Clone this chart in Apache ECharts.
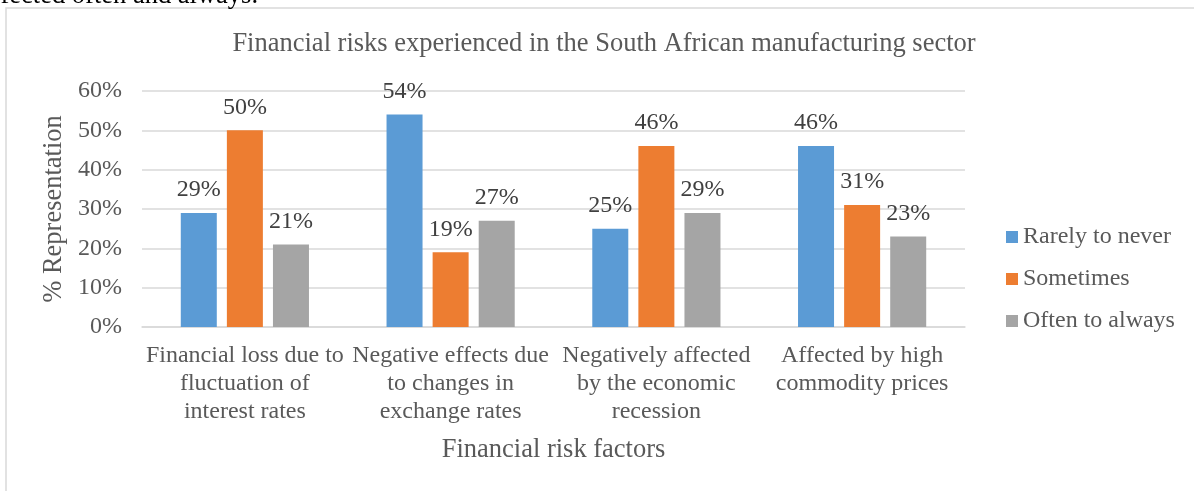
<!DOCTYPE html>
<html>
<head>
<meta charset="utf-8">
<script src="https://cdn.jsdelivr.net/npm/echarts@6/dist/echarts.min.js"></script>
<style>
  html, body { margin: 0; padding: 0; background: #ffffff; }
  #chart { width: 1194px; height: 491px; }
</style>
</head>
<body>
<div id="chart"></div>
<script>
// Risk factor categories (tick labels, with line breaks as shown under the axis)
const categories = [
  'Financial loss due to\nfluctuation of\ninterest rates',
  'Negative effects due\nto changes in\nexchange rates',
  'Negatively affected\nby the economic\nrecession',
  'Affected by high\ncommodity prices'
];

// Share of respondents per frequency, in percent
const rarelyToNever = [29, 54, 25, 46];
const sometimes = [50, 19, 46, 31];
const oftenToAlways = [21, 27, 29, 23];

const seriesNames = ['Rarely to never', 'Sometimes', 'Often to always'];
const seriesColors = ['#5B9BD5', '#ED7D31', '#A5A5A5'];

const serif = "'Liberation Serif', 'Times New Roman', serif";
const axisGrey = '#595959';
const gridGrey = '#D9D9D9';

const chart = echarts.init(document.getElementById('chart'), null, { renderer: 'canvas' });

function barSeries(name, values, color) {
  return {
    name: name,
    type: 'bar',
    data: values,
    barWidth: '17.5%',
    barGap: '28%',
    itemStyle: { color: color },
    label: {
      show: true,
      position: 'top',
      distance: 11,
      formatter: '{c}%',
      color: '#404040',
      fontFamily: serif,
      fontSize: 24,
      lineHeight: 24
    }
  };
}

chart.setOption({
  animation: false,
  backgroundColor: '#ffffff',
  textStyle: { fontFamily: serif },
  title: {
    text: 'Financial risks experienced in the South African manufacturing sector',
    left: 604,
    textAlign: 'center',
    top: 31,
    padding: 0,
    textStyle: {
      fontFamily: serif,
      fontSize: 26.5,
      fontWeight: 'normal',
      color: axisGrey,
      lineHeight: 27
    }
  },
  legend: {
    orient: 'vertical',
    left: 1006,
    top: 225,
    padding: 0,
    icon: 'rect',
    itemWidth: 12,
    itemHeight: 12,
    itemGap: 18,
    data: seriesNames,
    textStyle: {
      fontFamily: serif,
      fontSize: 24,
      color: axisGrey,
      lineHeight: 24,
      padding: [0, 0, 0, 0]
    }
  },
  grid: {
    left: 142,
    right: 229,
    top: 91,
    bottom: 164,
    outerBoundsMode: 'none'
  },
  xAxis: {
    type: 'category',
    data: categories,
    name: 'Financial risk factors',
    nameLocation: 'middle',
    nameGap: 110,
    nameTextStyle: {
      fontFamily: serif,
      fontSize: 26.5,
      color: axisGrey
    },
    axisLine: { show: true, lineStyle: { color: gridGrey, width: 1.5 } },
    axisTick: { show: false },
    axisLabel: {
      interval: 0,
      margin: 15,
      fontFamily: serif,
      fontSize: 24,
      lineHeight: 28,
      color: axisGrey,
      align: 'center',
      verticalAlign: 'top'
    }
  },
  yAxis: {
    type: 'value',
    min: 0,
    max: 60,
    interval: 10,
    name: '% Representation',
    nameLocation: 'middle',
    nameGap: 72,
    nameRotate: 90,
    nameTextStyle: {
      fontFamily: serif,
      fontSize: 26.5,
      color: axisGrey
    },
    axisLine: { show: false },
    axisTick: { show: false },
    splitLine: { lineStyle: { color: gridGrey, width: 1.5 } },
    axisLabel: {
      formatter: '{value}%',
      margin: 20,
      fontFamily: serif,
      fontSize: 24,
      color: axisGrey
    }
  },
  graphic: [
    {
      // chart area border
      type: 'rect',
      shape: { x: 6, y: 8, width: 1200, height: 500 },
      style: { fill: 'none', stroke: gridGrey, lineWidth: 1.5 },
      silent: true
    },
    {
      // tail of the document sentence above the chart
      type: 'text',
      x: 258,
      y: 10,
      style: {
        text: 'affected often and always.',
        fontFamily: serif,
        fontSize: 26.5,
        fill: '#000000',
        textAlign: 'right',
        textVerticalAlign: 'bottom'
      },
      silent: true
    }
  ],
  series: [
    barSeries(seriesNames[0], rarelyToNever, seriesColors[0]),
    barSeries(seriesNames[1], sometimes, seriesColors[1]),
    barSeries(seriesNames[2], oftenToAlways, seriesColors[2])
  ]
});
</script>
</body>
</html>
